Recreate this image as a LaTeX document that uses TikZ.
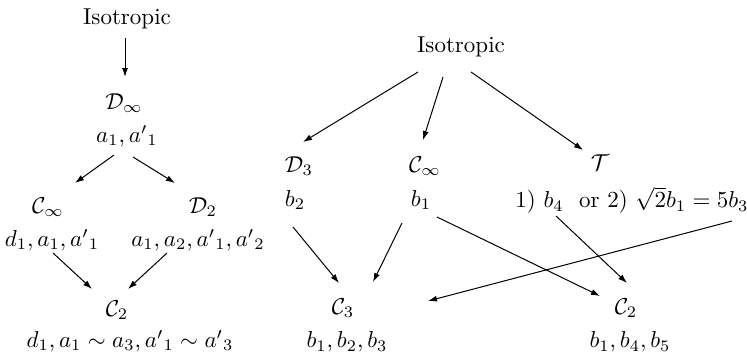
\documentclass[tikz,border=0pt]{standalone}
\usepackage{amsmath}
\usetikzlibrary{arrows.meta,calc}
\begin{document}
\begin{tikzpicture}[x=0.5pt,y=-0.5pt,
  lbl/.style={inner sep=0pt,scale=1.15},
  arr/.style={-{Latex[length=4.5pt,width=3pt]},line width=0.5pt}]
\useasboundingbox (0,0) rectangle (747,354);
% left diagram
\node[lbl] (isoL) at (127,19) {Isotropic};
\node[lbl] (Dinf) at (124,103) {$\mathcal{D}_\infty$};
\node[lbl] (aL) at (127,136) {$a_1, {a'}_1$};
\node[lbl] (CinfL) at (48,207) {$\mathcal{C}_\infty$};
\node[lbl] (D2) at (203,207) {$\mathcal{D}_2$};
\node[lbl] (dL) at (52,240) {$d_1, a_1, {a'}_1$};
\node[lbl] (aa) at (198,240) {$a_1, a_2, {a'}_1, {a'}_2$};
\node[lbl] (C2L) at (117,310) {$\mathcal{C}_2$};
\node[lbl] (dC2L) at (130,341) {$d_1, a_1\sim a_3, {a'}_1\sim {a'}_3$};
% right diagram
\node[lbl] (isoR) at (461,47) {Isotropic};
\node[lbl] (D3) at (299,166) {$\mathcal{D}_3$};
\node[lbl] (CinfR) at (425,166) {$\mathcal{C}_\infty$};
\node[lbl] (T) at (600,163) {$\mathcal{T}$};
\node[lbl] (b2) at (295,200) {$b_2$};
\node[lbl] (b1) at (421,200) {$b_1$};
\node[lbl] (opt) at (632,200) {$1)\ b_4$\ \ or $2)\ \sqrt{2}b_1=5b_3$};
\node[lbl] (C3) at (343,308) {$\mathcal{C}_3$};
\node[lbl] (C2R) at (626,308) {$\mathcal{C}_2$};
\node[lbl] (bC3) at (347,342) {$b_1, b_2, b_3$};
\node[lbl] (bC2R) at (630,342) {$b_1, b_4, b_5$};
% left connectors
\draw[arr] ($(isoL)+(-2,19)$) -- ($(Dinf)+(1,-26)$);
\draw[arr] ($(aL)+(-13,19)$) -- ($(CinfL)+(27,-24)$);
\draw[arr] ($(aL)+(6,21)$) -- ($(D2)+(-28,-24)$);
\draw[arr] ($(dL)+(1,13)$) -- ($(C2L)+(-25,-21)$);
\draw[arr] ($(aa)+(-31,13)$) -- ($(C2L)+(11,-21)$);
% right connectors
\draw[arr] ($(isoR)+(-43,25)$) -- ($(D3)+(4,-24)$);
\draw[arr] ($(isoR)+(-18,30)$) -- ($(CinfR)+(-2,-26)$);
\draw[arr] ($(isoR)+(10,25)$) -- ($(T)+(-17,-13)$);
\draw[arr] ($(b2)+(-2,27)$) -- ($(C3)+(-4,-25)$);
\draw[arr] ($(b1)+(-19,23)$) -- ($(C3)+(30,-26)$);
\draw[arr] ($(b1)+(16,17)$) -- ($(C2R)+(-26,-12)$);
\draw[arr] ($(opt)+(-76,16)$) -- ($(C2R)+(1,-25)$);
\draw[arr] ($(opt)+(100,21)$) -- ($(C3)+(85,-7)$);
\end{tikzpicture}
\end{document}
